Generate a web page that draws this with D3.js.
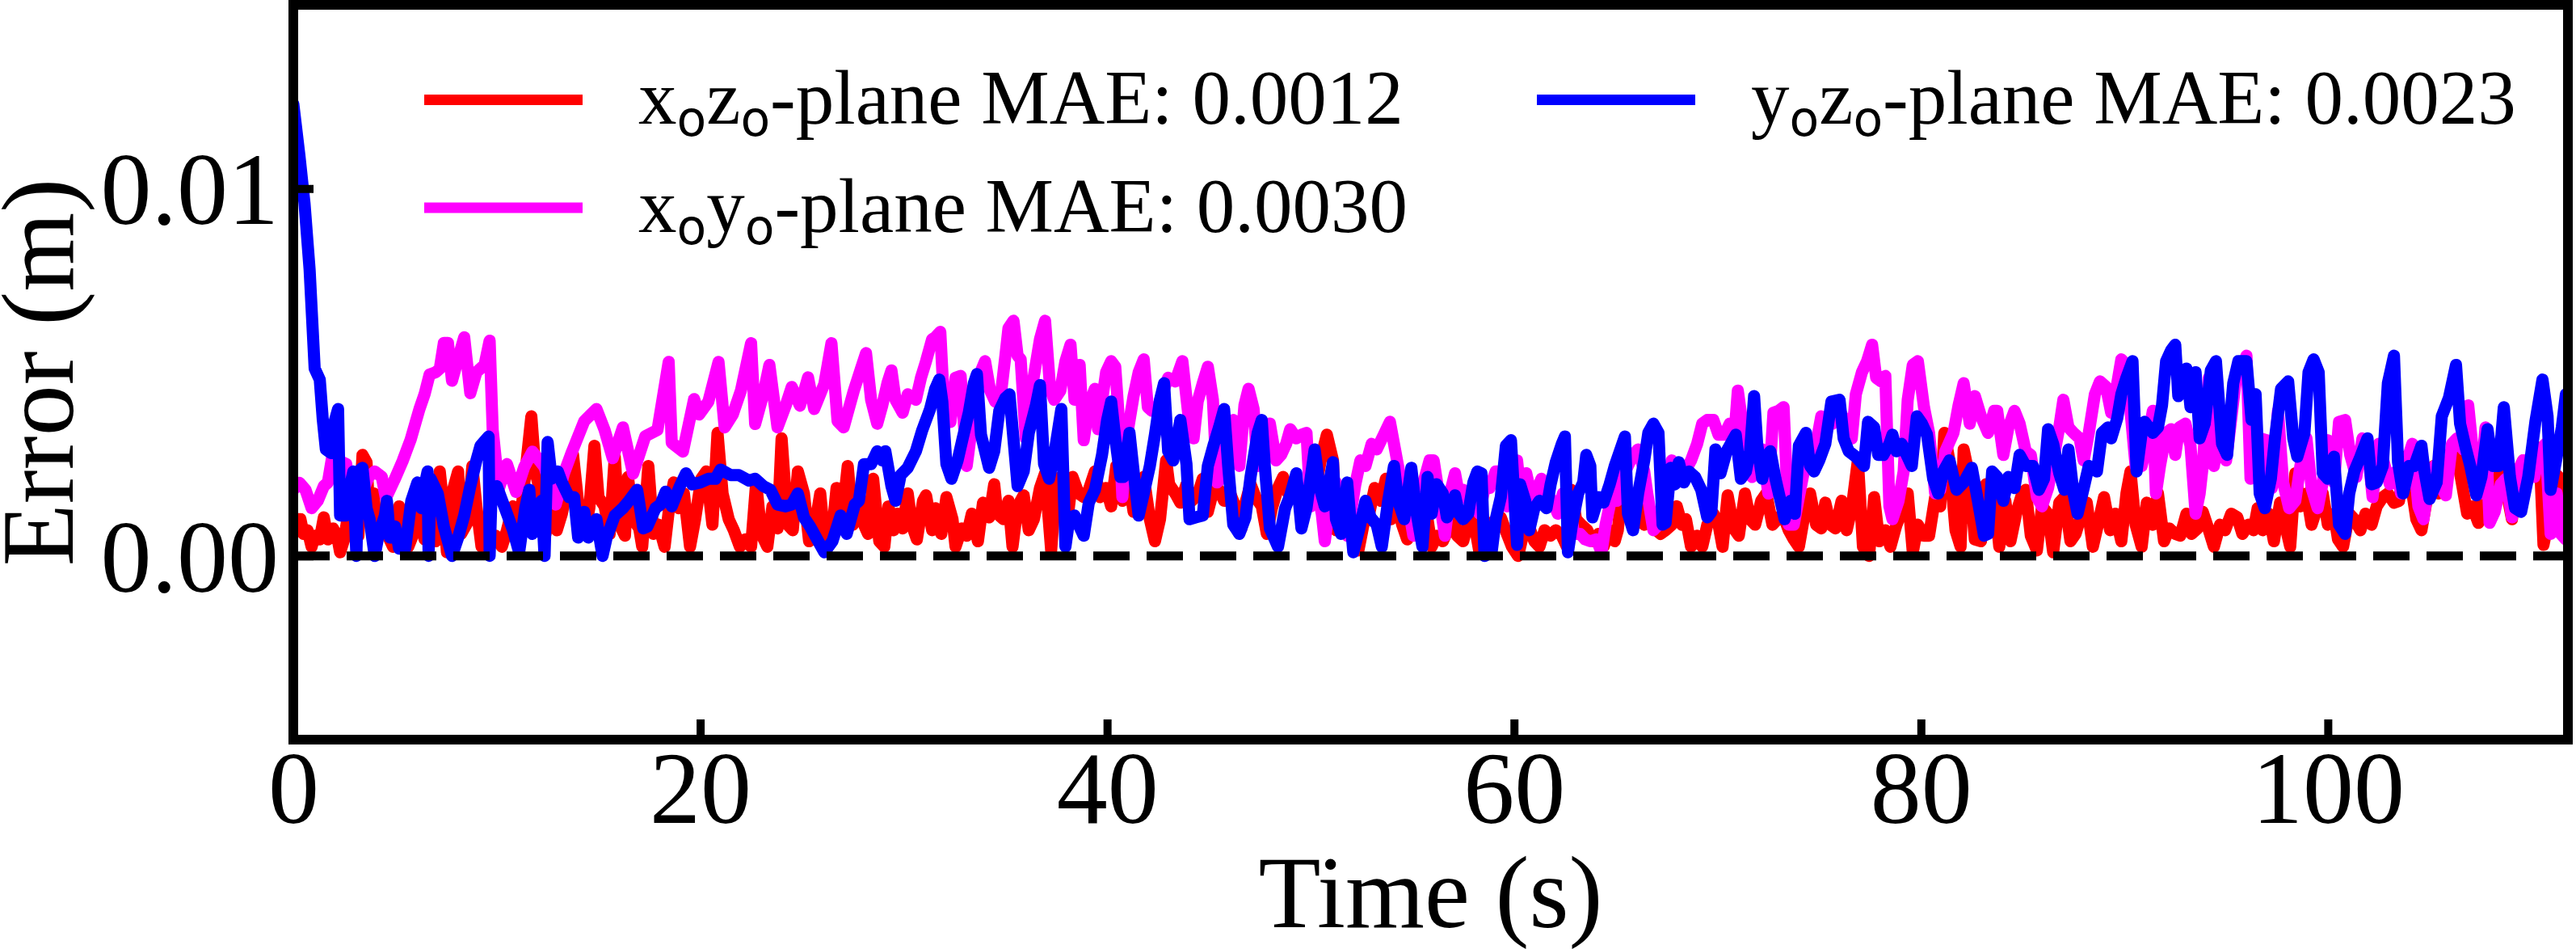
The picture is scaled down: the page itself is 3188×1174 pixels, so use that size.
<!DOCTYPE html>
<html>
<head>
<meta charset="utf-8">
<script src="https://cdn.jsdelivr.net/npm/d3@7"></script>
<style>
  body { margin: 0; background: #fff; }
  svg { display: block; }
</style>
</head>
<body>
<div id="chart"></div>
<script>
// time (s), error (mm)
const xzData = [[0,1.0],[0.35,1.0],[0.5,0.6],[0.7,0.7],[0.9,0.25],[1.05,0.55],[1.3,0.45],[1.5,1.05],[1.7,0.45],[1.95,0.75],[2.15,0.55],[2.3,0.1],[2.5,0.45],[2.7,1.15],[2.95,1.0],[3.2,0.55],[3.4,2.75],[3.6,2.55],[3.75,1.0],[3.95,1.7],[4.1,0.6],[4.4,0.85],[4.65,0.55],[4.9,0.25],[5.2,1.35],[5.4,0.85],[5.65,0.25],[5.9,0.6],[6.2,1.15],[6.45,0.45],[6.75,0.7],[7.0,0.4],[7.2,2.3],[7.35,1.5],[7.55,0.1],[7.8,1.7],[8.1,2.3],[8.25,0.6],[8.55,0.9],[8.8,2.45],[9.0,1.35],[9.25,0.25],[9.45,0.85],[9.7,0.3],[9.95,0.55],[10.25,0.25],[10.5,0.7],[10.8,1.35],[11.05,0.45],[11.3,1.7],[11.7,3.8],[11.9,2.3],[12.15,1.7],[12.4,0.6],[12.65,1.5],[12.95,0.7],[13.2,1.15],[13.5,1.95],[13.75,2.75],[14.0,1.45],[14.3,0.6],[14.55,1.3],[14.8,3.0],[15.0,1.6],[15.3,1.35],[15.55,0.6],[15.8,2.7],[16.0,0.9],[16.3,0.55],[16.45,2.15],[16.7,1.0],[17.0,0.75],[17.15,0.25],[17.45,2.45],[17.7,0.6],[17.95,0.85],[18.25,0.25],[18.5,1.45],[18.7,2.0],[18.95,1.3],[19.2,1.7],[19.5,0.25],[19.75,1.0],[20.05,2.1],[20.3,2.3],[20.6,0.85],[20.85,3.35],[21.1,1.7],[21.4,1.0],[21.65,0.7],[21.95,0.25],[22.2,0.45],[22.5,0.25],[22.75,2.0],[23.0,0.6],[23.3,0.25],[23.55,1.35],[23.8,0.75],[24.0,3.2],[24.3,0.85],[24.55,0.7],[24.8,2.3],[25.1,1.7],[25.35,0.4],[25.6,0.7],[25.9,1.7],[26.15,0.25],[26.45,0.45],[26.7,1.85],[27.0,1.15],[27.25,2.45],[27.5,0.85],[27.8,1.7],[28.05,0.85],[28.25,0.6],[28.5,2.1],[28.8,0.4],[29.05,0.25],[29.25,1.35],[29.5,0.7],[29.7,1.15],[29.95,0.75],[30.2,1.7],[30.4,0.85],[30.65,0.45],[30.95,1.5],[31.1,1.65],[31.4,0.7],[31.55,1.3],[31.85,0.6],[32.1,1.6],[32.4,1.0],[32.55,0.25],[32.85,0.75],[33.1,0.55],[33.35,1.15],[33.65,0.4],[33.9,1.45],[34.2,1.05],[34.45,1.95],[34.6,1.15],[34.9,1.0],[35.15,1.5],[35.35,0.25],[35.6,1.35],[35.9,1.65],[36.15,0.7],[36.4,1.0],[36.7,1.85],[36.95,2.25],[37.25,0.15],[37.5,2.1],[37.75,2.15],[38.05,1.0],[38.3,2.15],[38.6,1.7],[38.85,1.6],[39.1,1.8],[39.4,2.3],[39.65,1.6],[39.95,1.85],[40.2,1.35],[40.45,2.45],[40.75,1.5],[41.0,2.3],[41.3,1.2],[41.55,1.3],[41.8,2.15],[42.1,1.0],[42.35,0.4],[42.6,1.0],[42.9,2.6],[43.05,1.95],[43.35,1.7],[43.6,1.45],[43.9,1.95],[44.15,1.5],[44.45,1.65],[44.7,2.1],[44.95,1.2],[45.25,1.85],[45.5,1.8],[45.75,1.5],[46.05,1.7],[46.3,1.35],[46.6,0.75],[46.75,1.35],[47.05,1.95],[47.3,1.6],[47.6,1.35],[47.85,0.6],[48.1,1.3],[48.4,1.85],[48.65,2.15],[48.9,1.7],[49.2,1.6],[49.45,1.85],[49.7,1.7],[49.95,1.65],[50.25,1.85],[50.55,2.75],[50.8,3.3],[51.1,2.6],[51.25,0.7],[51.55,1.0],[51.8,1.85],[52.05,0.55],[52.35,0.15],[52.6,0.85],[52.9,1.2],[53.15,1.85],[53.45,1.5],[53.7,2.1],[53.95,1.0],[54.25,1.5],[54.5,0.85],[54.75,0.45],[55.05,1.5],[55.3,1.85],[55.6,1.0],[55.75,1.0],[55.95,0.25],[56.2,0.55],[56.5,0.4],[56.75,0.7],[56.95,1.3],[57.2,0.55],[57.5,0.4],[57.75,0.9],[58.0,1.05],[58.3,0.1],[58.55,0.4],[58.85,0.9],[59.1,0.75],[59.35,1.05],[59.65,0.6],[59.9,0.25],[60.2,0.0],[60.45,0.6],[60.7,0.85],[61.0,0.4],[61.25,0.25],[61.5,0.7],[61.8,0.55],[62.05,0.7],[62.35,0.55],[62.6,0.25],[62.8,1.8],[63.05,1.0],[63.3,0.85],[63.6,0.7],[63.85,0.4],[64.15,0.6],[64.4,0.25],[64.7,0.7],[64.95,0.4],[65.1,0.7],[65.3,1.8],[65.55,1.3],[65.85,1.0],[66.1,1.35],[66.4,0.85],[66.65,1.0],[66.9,0.75],[67.2,0.6],[67.45,0.7],[67.75,0.85],[68.0,1.35],[68.25,0.85],[68.45,1.0],[68.7,0.25],[69.0,0.55],[69.25,0.25],[69.5,0.85],[69.8,1.15],[70.05,0.85],[70.25,0.25],[70.5,1.65],[70.8,0.75],[71.05,0.55],[71.35,1.7],[71.6,1.0],[71.85,0.85],[72.15,1.5],[72.4,1.7],[72.7,0.85],[72.95,1.0],[73.2,1.15],[73.5,0.7],[73.75,0.45],[74.0,0.25],[74.3,1.2],[74.55,1.7],[74.85,0.85],[75.1,0.75],[75.3,1.45],[75.55,0.85],[75.8,0.75],[76.1,1.5],[76.35,0.7],[76.6,1.3],[76.9,2.6],[77.15,0.25],[77.45,0.0],[77.7,1.6],[77.95,0.4],[78.25,0.7],[78.5,0.25],[78.8,0.85],[79.05,1.2],[79.35,1.7],[79.6,0.1],[79.85,0.85],[80.15,0.55],[80.4,0.55],[80.7,1.6],[80.95,1.35],[81.15,3.35],[81.4,2.6],[81.7,0.7],[81.95,0.25],[82.1,2.9],[82.4,2.1],[82.65,0.45],[82.95,0.4],[83.2,1.95],[83.45,1.0],[83.6,1.7],[83.85,0.25],[84.15,1.5],[84.4,0.4],[84.7,1.2],[84.95,1.65],[85.15,1.8],[85.4,0.55],[85.7,0.15],[85.95,1.35],[86.25,1.15],[86.5,0.1],[86.8,1.45],[87.05,1.6],[87.35,0.4],[87.6,0.6],[87.9,1.15],[88.15,1.45],[88.45,0.25],[88.7,0.85],[89.0,1.6],[89.3,0.7],[89.55,1.15],[89.85,0.4],[90.1,1.7],[90.3,2.3],[90.55,0.85],[90.85,0.25],[91.1,1.45],[91.4,0.85],[91.65,1.7],[91.95,0.4],[92.2,0.75],[92.5,0.6],[92.75,0.55],[93.05,1.15],[93.3,0.6],[93.6,0.75],[93.85,1.2],[94.15,0.7],[94.4,0.25],[94.7,0.85],[94.95,0.7],[95.25,1.15],[95.55,1.05],[95.8,0.6],[96.1,0.85],[96.35,0.7],[96.55,1.3],[96.8,0.7],[97.1,1.15],[97.35,0.4],[97.65,1.45],[97.9,0.85],[98.15,0.25],[98.4,2.25],[98.65,1.35],[98.95,1.7],[99.2,0.85],[99.5,1.35],[99.75,1.7],[100.0,0.85],[100.3,1.15],[100.5,0.45],[100.75,0.25],[101.05,1.15],[101.3,1.0],[101.6,0.7],[101.85,1.15],[102.15,0.85],[102.4,1.35],[102.7,1.6],[102.95,1.7],[103.25,1.45],[103.5,1.5],[103.8,2.7],[104.05,2.1],[104.35,1.0],[104.6,0.7],[104.9,1.65],[105.2,2.45],[105.45,1.7],[105.75,2.1],[106.0,2.45],[106.3,2.85],[106.55,2.1],[106.85,1.15],[107.1,1.35],[107.4,0.9],[107.65,1.8],[107.95,1.15],[108.2,1.35],[108.5,2.45],[108.75,1.85],[109.05,1.0],[109.3,2.25],[109.6,2.6],[109.85,2.1],[110.15,3.0],[110.4,2.9],[110.6,0.3],[110.85,1.0],[111.15,2.25],[111.45,2.1],[111.7,1.15]];

const xyData = [[0,1.8],[0.3,1.99],[0.6,1.8],[0.9,1.3],[1.2,1.5],[1.5,1.9],[1.7,2.0],[1.9,2.66],[2.3,2.58],[2.6,2.5],[2.95,1.15],[3.3,1.6],[3.7,2.15],[4.0,2.3],[4.35,2.15],[4.55,1.57],[4.97,2.07],[5.37,2.58],[5.77,3.17],[6.2,4.0],[6.45,4.4],[6.7,4.94],[7.0,5.0],[7.2,5.1],[7.4,5.8],[7.6,5.8],[7.8,4.77],[8.1,5.37],[8.4,5.95],[8.7,4.43],[9.0,5.0],[9.4,5.2],[9.65,5.86],[9.8,3.43],[10.1,1.83],[10.5,2.5],[10.95,1.74],[11.35,2.42],[11.75,2.84],[12.35,2.42],[12.9,1.4],[13.3,2.24],[13.7,2.84],[14.3,3.67],[14.9,4.0],[15.3,3.43],[15.7,2.66],[16.2,3.5],[16.7,2.24],[17.3,3.26],[17.9,3.43],[18.45,5.28],[18.6,3.08],[19.15,2.84],[19.7,4.27],[19.95,3.85],[20.4,4.2],[20.9,5.28],[21.2,3.5],[21.6,3.85],[22.0,4.5],[22.5,5.79],[22.7,3.59],[23.1,4.4],[23.4,5.2],[23.8,3.5],[24.2,4.09],[24.5,4.6],[24.9,4.09],[25.3,4.86],[25.6,4.0],[26.1,4.68],[26.45,5.79],[26.75,3.67],[27.05,3.5],[27.55,4.5],[27.9,5.1],[28.15,5.52],[28.4,4.25],[28.7,3.6],[28.95,4.1],[29.2,4.7],[29.4,5.05],[29.6,4.25],[29.95,3.9],[30.2,4.4],[30.6,4.25],[30.85,4.85],[31.1,5.3],[31.4,5.9],[31.55,5.95],[31.8,6.1],[32.0,3.95],[32.3,3.65],[32.55,4.85],[32.8,4.9],[33.1,2.45],[33.45,3.95],[33.7,4.9],[34.0,5.3],[34.25,4.5],[34.5,4.2],[34.8,4.5],[35.0,5.45],[35.15,6.2],[35.4,6.4],[35.6,5.45],[35.75,5.35],[36.0,3.2],[36.15,3.95],[36.4,4.9],[36.7,5.9],[36.95,6.4],[37.2,4.55],[37.4,4.25],[37.7,4.5],[37.95,5.3],[38.2,5.75],[38.4,4.25],[38.65,5.2],[38.85,3.15],[39.1,4.1],[39.4,4.55],[39.55,3.45],[39.95,5.0],[40.2,5.3],[40.4,5.15],[40.55,3.95],[40.75,1.6],[41.0,3.35],[41.3,4.35],[41.55,5.0],[41.8,5.35],[42.0,4.05],[42.2,3.95],[42.45,3.95],[42.7,4.4],[43.0,4.85],[43.35,4.75],[43.7,5.3],[44.0,3.8],[44.25,3.2],[44.45,4.2],[44.7,4.7],[44.95,5.15],[45.2,4.25],[45.4,2.0],[45.7,2.15],[45.95,3.45],[46.2,3.7],[46.5,2.45],[46.75,4.1],[46.95,4.55],[47.2,4.0],[47.4,2.45],[47.75,3.0],[48.0,3.6],[48.3,2.6],[48.55,2.75],[48.8,3.05],[49.0,3.45],[49.3,3.2],[49.55,3.3],[49.8,3.35],[50.0,1.35],[50.3,1.85],[50.55,1.15],[50.7,0.4],[51.0,1.7],[51.25,2.0],[51.55,1.2],[51.8,0.55],[52.2,1.95],[52.45,2.6],[52.7,2.45],[53.0,3.05],[53.25,2.9],[53.6,3.3],[53.9,3.65],[54.15,2.9],[54.4,2.15],[54.7,1.7],[55.05,0.55],[55.3,1.7],[55.6,2.1],[55.85,2.6],[56.05,2.6],[56.3,1.7],[56.6,0.55],[56.85,1.7],[57.1,2.25],[57.3,1.65],[57.5,1.8],[57.75,1.5],[58.0,1.7],[58.3,1.15],[58.55,1.85],[58.8,1.85],[59.1,2.3],[59.35,2.3],[59.65,1.35],[59.9,1.6],[60.15,2.6],[60.35,1.5],[60.6,2.25],[60.9,1.5],[61.15,1.85],[61.35,2.1],[61.6,1.7],[61.9,1.5],[62.15,1.15],[62.4,1.7],[62.7,1.5],[62.95,0.6],[63.25,0.6],[63.5,0.45],[63.75,0.4],[64.05,0.45],[64.3,0.1],[64.5,0.85],[64.75,1.5],[65.05,1.5],[65.3,2.1],[65.6,2.45],[65.85,2.75],[66.1,2.9],[66.4,2.3],[66.55,1.7],[66.85,0.7],[67.1,0.85],[67.45,1.3],[67.75,2.6],[68.0,2.0],[68.35,2.25],[68.7,2.6],[69.0,3.05],[69.25,3.6],[69.5,3.7],[69.8,3.7],[70.05,3.3],[70.35,3.3],[70.6,3.6],[70.8,3.05],[71.0,4.5],[71.15,3.9],[71.35,2.75],[71.7,2.15],[71.95,2.7],[72.2,2.9],[72.5,1.7],[72.75,3.9],[73.0,3.95],[73.25,4.05],[73.5,0.85],[73.75,0.85],[74.0,1.6],[74.3,2.45],[74.55,2.85],[74.85,3.05],[75.1,3.8],[75.4,3.65],[75.65,3.6],[76.0,3.95],[76.35,3.6],[76.6,3.2],[76.8,4.4],[77.1,5.0],[77.35,5.3],[77.6,5.75],[77.8,4.85],[78.05,4.75],[78.25,4.9],[78.45,1.35],[78.6,1.0],[78.9,1.5],[79.15,2.3],[79.35,4.25],[79.6,5.2],[79.85,5.3],[80.15,4.05],[80.4,3.35],[80.7,1.7],[80.95,1.8],[81.2,2.85],[81.6,3.35],[81.85,4.1],[82.1,4.7],[82.4,3.6],[82.65,4.35],[82.95,3.8],[83.3,3.35],[83.6,3.95],[83.75,3.95],[84.05,2.75],[84.3,3.5],[84.6,3.95],[84.85,3.6],[85.15,2.85],[85.4,2.75],[85.7,1.6],[85.95,1.35],[86.25,1.85],[86.5,2.6],[86.8,3.5],[87.0,4.25],[87.25,3.5],[87.5,3.35],[87.8,3.2],[88.0,2.6],[88.25,3.35],[88.55,4.4],[88.8,4.75],[89.1,4.6],[89.35,3.9],[89.65,4.7],[89.85,5.35],[90.1,5.2],[90.3,3.95],[90.55,2.45],[90.85,2.45],[91.1,3.05],[91.4,3.95],[91.55,1.7],[91.75,2.45],[92.05,3.35],[92.3,3.45],[92.5,2.75],[92.7,3.5],[93.0,3.6],[93.25,3.0],[93.5,1.15],[93.7,1.7],[93.85,2.45],[94.15,4.85],[94.4,2.45],[94.7,3.5],[95.0,2.6],[95.2,3.5],[95.5,4.9],[95.75,4.85],[96.0,5.45],[96.2,2.1],[96.45,3.2],[96.7,3.2],[97.0,3.15],[97.25,1.85],[97.55,3.95],[97.8,2.0],[98.1,1.3],[98.4,1.5],[98.65,2.45],[98.95,3.2],[99.2,1.85],[99.5,1.3],[99.75,2.0],[100.0,3.15],[100.3,2.0],[100.55,3.65],[100.85,3.7],[101.1,2.75],[101.4,2.15],[101.7,3.2],[101.95,3.0],[102.2,1.6],[102.5,3.05],[102.8,2.45],[103.05,1.95],[103.35,2.3],[103.6,1.7],[103.9,2.6],[104.15,3.05],[104.45,1.35],[104.7,1.0],[105.0,2.15],[105.25,2.45],[105.5,1.95],[105.8,1.65],[106.1,3.05],[106.35,3.2],[106.65,2.9],[106.9,4.1],[107.2,2.45],[107.45,1.7],[107.75,3.5],[107.95,0.9],[108.2,1.2],[108.5,1.95],[108.75,2.1],[109.05,1.05],[109.3,2.25],[109.6,2.6],[109.85,2.6],[110.15,2.15],[110.4,2.85],[110.7,3.05],[110.95,0.6],[111.25,1.7],[111.45,0.6],[111.7,0.45]];

const yzData = [[0,12.3],[0.3,10.9],[0.55,9.6],[0.8,7.8],[1.05,5.1],[1.3,4.8],[1.45,3.7],[1.6,2.9],[1.85,2.8],[2.0,3.6],[2.2,4.0],[2.3,1.1],[2.6,1.1],[2.75,1.8],[2.95,2.3],[3.1,0.0],[3.2,2.3],[3.4,2.4],[3.6,1.3],[3.75,1.0],[4.0,0.0],[4.2,0.6],[4.5,1.1],[4.6,1.5],[4.75,0.5],[5.0,0.8],[5.2,0.2],[5.5,0.2],[5.8,1.5],[6.1,2.0],[6.3,1.3],[6.45,1.9],[6.6,2.3],[6.65,0.0],[6.75,2.1],[7.1,1.7],[7.4,0.8],[7.8,0.0],[8.1,0.5],[8.4,1.1],[8.7,1.9],[9.0,2.6],[9.2,3.0],[9.6,3.25],[9.65,0.0],[9.75,1.8],[10.0,1.9],[10.4,1.3],[10.8,0.7],[11.1,0.1],[11.4,1.3],[11.6,1.8],[11.75,0.6],[12.0,0.8],[12.2,1.5],[12.35,0.0],[12.5,3.1],[12.7,2.1],[13.0,2.3],[13.2,2.0],[13.55,1.6],[13.8,1.6],[14.0,0.5],[14.3,1.2],[14.5,0.5],[14.9,1.0],[15.2,0.0],[15.4,0.5],[15.8,1.1],[16.2,1.3],[16.5,1.5],[16.9,1.8],[17.2,0.75],[17.4,0.8],[17.8,1.3],[18.05,1.4],[18.3,1.75],[18.6,1.35],[19.0,1.9],[19.3,2.25],[19.6,1.95],[20.0,2.0],[20.4,2.1],[20.75,2.1],[21.0,2.35],[21.5,2.2],[21.9,2.2],[22.4,2.05],[22.7,2.1],[23.1,1.9],[23.45,1.8],[23.8,1.4],[24.2,1.35],[24.5,1.4],[24.8,1.7],[25.1,1.05],[25.4,0.8],[25.8,0.4],[26.1,0.1],[26.5,0.4],[26.9,1.1],[27.2,0.6],[27.6,1.4],[27.8,1.5],[28.05,2.5],[28.4,2.5],[28.7,2.85],[28.95,2.6],[29.1,2.85],[29.4,1.9],[29.6,1.5],[29.85,2.2],[30.2,2.4],[30.6,2.85],[30.9,3.4],[31.3,4.0],[31.55,4.55],[31.75,4.8],[31.9,4.2],[32.1,2.5],[32.35,2.1],[32.65,2.6],[32.9,3.2],[33.2,3.9],[33.45,4.7],[33.6,4.95],[33.8,3.3],[34.2,2.4],[34.45,2.85],[34.7,3.95],[35.0,4.3],[35.2,4.4],[35.45,2.85],[35.6,1.9],[35.9,2.3],[36.15,3.35],[36.5,4.1],[36.7,4.65],[36.9,2.5],[37.15,2.1],[37.4,2.75],[37.75,4.0],[37.95,0.25],[38.1,0.85],[38.4,1.1],[38.6,0.85],[38.85,0.55],[39.1,1.45],[39.4,1.8],[39.75,2.75],[40.0,3.7],[40.2,4.2],[40.4,3.2],[40.65,2.15],[40.8,2.15],[41.1,3.35],[41.4,1.8],[41.55,1.1],[41.8,1.7],[42.1,2.45],[42.35,3.3],[42.6,4.25],[42.8,4.7],[43.0,2.85],[43.25,2.6],[43.6,3.7],[43.9,2.5],[44.05,1.0],[44.35,1.05],[44.7,1.1],[44.95,2.45],[45.25,3.05],[45.5,3.5],[45.75,4.0],[45.95,2.45],[46.2,0.85],[46.5,0.6],[46.8,1.05],[47.05,2.15],[47.4,3.35],[47.6,3.7],[47.75,2.45],[48.0,0.75],[48.4,0.25],[48.75,1.3],[49.0,1.65],[49.3,2.25],[49.55,0.75],[49.8,1.3],[50.2,2.9],[50.45,1.85],[50.7,1.35],[51.1,2.55],[51.25,1.0],[51.5,0.6],[51.8,2.0],[52.1,0.1],[52.4,0.75],[52.7,1.5],[52.95,1.05],[53.25,0.85],[53.5,0.25],[53.8,1.45],[54.1,2.45],[54.3,1.5],[54.6,1.0],[54.95,2.4],[55.2,1.2],[55.5,0.25],[55.75,2.15],[55.95,1.15],[56.2,1.95],[56.5,1.7],[56.7,1.05],[56.95,1.3],[57.1,1.65],[57.3,1.15],[57.5,1.0],[57.75,1.15],[58.0,2.0],[58.2,2.3],[58.4,2.25],[58.55,0.0],[58.9,0.1],[59.1,1.0],[59.35,1.6],[59.6,3.0],[59.85,3.15],[60.0,1.7],[60.15,0.3],[60.3,1.95],[60.55,1.5],[60.75,0.7],[61.0,1.3],[61.25,1.5],[61.6,1.3],[61.8,1.95],[62.05,2.55],[62.35,3.05],[62.5,3.25],[62.65,0.1],[62.85,0.85],[63.15,1.7],[63.4,2.0],[63.55,2.75],[63.75,2.45],[63.85,1.05],[64.15,1.6],[64.4,1.45],[64.7,1.95],[64.95,2.45],[65.2,2.85],[65.45,3.25],[65.6,1.15],[65.85,0.7],[66.1,1.7],[66.4,2.6],[66.6,3.35],[66.85,3.6],[67.1,3.35],[67.3,0.85],[67.45,0.9],[67.7,2.4],[67.9,1.95],[68.1,2.55],[68.35,2.0],[68.6,2.3],[68.9,2.15],[69.2,1.8],[69.5,1.05],[69.7,1.2],[69.9,2.9],[70.15,2.25],[70.45,2.85],[70.6,3.0],[70.9,3.3],[71.15,2.1],[71.4,2.3],[71.6,2.85],[71.8,4.35],[71.95,3.05],[72.2,2.1],[72.4,2.7],[72.6,2.85],[72.85,2.1],[73.1,1.5],[73.3,1.0],[73.6,1.5],[73.8,1.15],[74.0,3.0],[74.35,3.35],[74.55,2.45],[74.75,2.3],[75.0,2.6],[75.3,3.05],[75.6,4.2],[76.0,4.25],[76.2,3.2],[76.45,2.85],[76.8,2.7],[77.2,2.45],[77.4,3.65],[77.7,3.5],[77.9,2.75],[78.15,2.75],[78.45,3.05],[78.6,3.3],[78.8,2.85],[79.05,3.05],[79.3,2.75],[79.55,2.45],[79.8,3.8],[80.05,3.6],[80.3,3.3],[80.6,2.1],[80.85,1.7],[81.1,2.3],[81.4,2.6],[81.75,1.8],[82.1,2.0],[82.5,2.4],[82.8,1.5],[83.1,0.55],[83.3,0.6],[83.5,2.3],[83.75,2.15],[84.05,1.5],[84.3,2.15],[84.6,1.85],[84.85,2.75],[85.15,2.45],[85.5,2.45],[85.8,1.8],[86.05,2.1],[86.25,3.45],[86.5,3.05],[86.8,2.25],[87.05,1.8],[87.25,2.9],[87.5,1.7],[87.7,1.15],[88.0,1.85],[88.25,2.45],[88.65,2.3],[88.9,3.35],[89.2,3.5],[89.35,3.2],[89.65,3.75],[89.85,4.4],[90.1,4.85],[90.4,5.3],[90.6,2.3],[90.85,3.35],[91.0,3.65],[91.4,3.35],[91.65,3.5],[91.85,4.1],[92.05,5.3],[92.3,5.6],[92.5,5.75],[92.65,4.35],[93.05,5.1],[93.25,4.05],[93.5,5.0],[93.7,3.2],[93.95,3.6],[94.25,5.05],[94.5,5.3],[94.8,3.05],[95.05,2.75],[95.35,4.7],[95.6,5.3],[96.0,5.3],[96.25,3.7],[96.45,4.4],[96.65,1.7],[96.9,1.3],[97.2,2.1],[97.4,3.2],[97.7,4.55],[98.05,4.75],[98.3,3.2],[98.5,2.7],[98.85,3.35],[99.05,5.0],[99.3,5.35],[99.55,5.0],[99.75,2.25],[100.0,2.1],[100.3,2.7],[100.55,0.85],[100.85,0.6],[101.05,1.7],[101.3,2.3],[101.6,2.7],[101.95,3.2],[102.15,1.95],[102.4,2.0],[102.7,2.45],[102.95,4.7],[103.25,5.45],[103.45,2.55],[103.7,1.7],[104.0,2.45],[104.25,2.45],[104.6,3.0],[104.75,2.3],[105.0,1.55],[105.35,2.0],[105.6,3.8],[105.95,4.3],[106.3,5.2],[106.5,3.6],[106.75,3.0],[107.0,2.45],[107.3,1.65],[107.55,2.15],[107.85,3.45],[108.1,2.45],[108.4,2.45],[108.65,4.05],[108.95,2.15],[109.2,1.3],[109.5,1.2],[109.85,2.15],[110.2,3.65],[110.55,4.8],[110.8,3.8],[110.95,1.8],[111.25,2.7],[111.5,3.5],[111.7,4.4]];

const seriesData = [xzData, xyData, yzData];
const seriesColors = ['#ff0000', '#ff00ff', '#0000ff'];
const seriesPlanes = [['x', 'z'], ['x', 'y'], ['y', 'z']];
const seriesMAE = ['0.0012', '0.0030', '0.0023'];

const timeTicks = [0, 20, 40, 60, 80, 100];
const errorTicks = [0, 10]; // mm
const errorTickLabels = ['0.00', '0.01'];

const width = 3188;
const height = 1174;
const plot = { left: 363, right: 3178, top: 6, bottom: 915 };
const serif = '"Liberation Serif", "Times New Roman", serif';

const svg = d3.select('#chart')
  .append('svg')
  .attr('width', width)
  .attr('height', height);

const x = d3.scaleLinear().domain([0, 111.8]).range([plot.left, plot.right]);
const y = d3.scaleLinear().domain([-5, 15]).range([plot.bottom, plot.top]);

svg.append('clipPath')
  .attr('id', 'plotClip')
  .append('rect')
  .attr('x', plot.left)
  .attr('y', plot.top)
  .attr('width', plot.right - plot.left)
  .attr('height', plot.bottom - plot.top);

const line = d3.line()
  .x((d) => x(d[0]))
  .y((d) => y(d[1]));

const lines = svg.append('g').attr('clip-path', 'url(#plotClip)');
lines.selectAll('path.series')
  .data(seriesData)
  .enter()
  .append('path')
  .attr('class', 'series')
  .attr('d', line)
  .attr('fill', 'none')
  .attr('stroke', (d, i) => seriesColors[i])
  .attr('stroke-width', 15)
  .attr('stroke-linejoin', 'round')
  .attr('stroke-linecap', 'round');

// zero reference
lines.append('line')
  .attr('x1', x(0))
  .attr('x2', plot.right)
  .attr('y1', y(0))
  .attr('y2', y(0))
  .attr('stroke', '#000')
  .attr('stroke-width', 11)
  .attr('stroke-dasharray', '45,21');

// axes, ticks pointing inward
const xAxis = svg.append('g')
  .attr('transform', `translate(0,${plot.bottom})`)
  .call(d3.axisBottom(x).tickValues(timeTicks).tickSizeInner(-25).tickSizeOuter(0));
xAxis.select('.domain').remove();
xAxis.selectAll('.tick line').attr('stroke', '#000').attr('stroke-width', 10);
xAxis.selectAll('.tick text')
  .attr('y', 103)
  .attr('dy', null)
  .attr('fill', '#000')
  .style('font-family', serif)
  .style('font-size', '126px');

const yAxis = svg.append('g')
  .attr('transform', `translate(${plot.left},0)`)
  .call(d3.axisLeft(y).tickValues(errorTicks).tickSizeInner(-25).tickSizeOuter(0)
    .tickPadding(18).tickFormat((d, i) => errorTickLabels[i]));
yAxis.select('.domain').remove();
yAxis.selectAll('.tick line').attr('stroke', '#000').attr('stroke-width', 10);
yAxis.selectAll('.tick text')
  .attr('dy', '0.345em')
  .attr('fill', '#000')
  .style('font-family', serif)
  .style('font-size', '126px');

// frame
svg.append('rect')
  .attr('x', plot.left)
  .attr('y', plot.top)
  .attr('width', plot.right - plot.left)
  .attr('height', plot.bottom - plot.top)
  .attr('fill', 'none')
  .attr('stroke', '#000')
  .attr('stroke-width', 12);

svg.append('text')
  .attr('x', (plot.left + plot.right) / 2)
  .attr('y', 1147)
  .attr('text-anchor', 'middle')
  .style('font-family', serif)
  .style('font-size', '126px')
  .text('Time (s)');

svg.append('text')
  .attr('transform', `translate(90,${(plot.top + plot.bottom) / 2}) rotate(-90)`)
  .attr('text-anchor', 'middle')
  .style('font-family', serif)
  .style('font-size', '126px')
  .text('Error (m)');

// legend: two columns, filled column-first
const legendPos = [
  { lx: 525, ty: 123.5 },
  { lx: 525, ty: 257 },
  { lx: 1902, ty: 123.5 },
];
const subDrop = 15;
const legend = svg.append('g');
const addSub = (t) => t.append('tspan')
  .attr('dy', subDrop)
  .style('font-family', '"DejaVu Sans", sans-serif')
  .style('font-size', '60px')
  .text('o');

seriesMAE.forEach((mae, i) => {
  const p = legendPos[i];
  legend.append('line')
    .attr('x1', p.lx)
    .attr('x2', p.lx + 196)
    .attr('y1', p.ty)
    .attr('y2', p.ty)
    .attr('stroke', seriesColors[i])
    .attr('stroke-width', 13);

  const t = legend.append('text')
    .attr('x', p.lx + 265)
    .attr('y', p.ty + 29.5)
    .style('font-family', serif)
    .style('font-size', '95px');
  const [a, b] = seriesPlanes[i];
  t.append('tspan').text(a);
  addSub(t);
  t.append('tspan').attr('dy', -subDrop).text(b);
  addSub(t);
  t.append('tspan').attr('dy', -subDrop).text(`-plane MAE: ${mae}`);
});
</script>
</body>
</html>
